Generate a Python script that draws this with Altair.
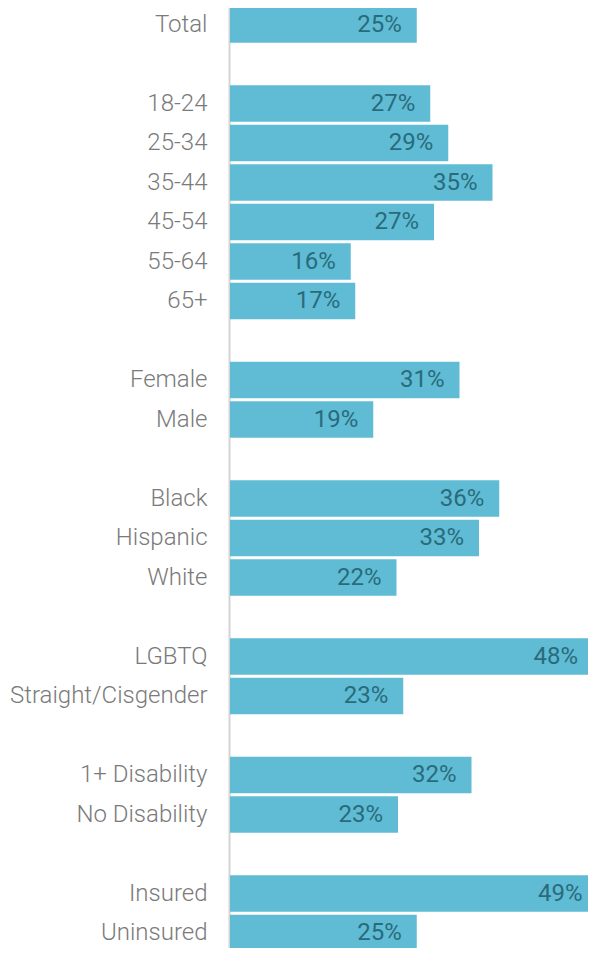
import altair as alt
import pandas as pd

categories = ["Total", "gap1",
              "18-24", "25-34", "35-44", "45-54", "55-64", "65+", "gap2",
              "Female", "Male", "gap3",
              "Black", "Hispanic", "White", "gap4",
              "LGBTQ", "Straight/Cisgender", "gap5",
              "1+ Disability", "No Disability", "gap6",
              "Insured", "Uninsured"]
values = [24.9, None,
          26.7, 29.1, 35.0, 27.2, 16.1, 16.7, None,
          30.6, 19.1, None,
          35.9, 33.2, 22.2, None,
          48.4, 23.1, None,
          32.2, 22.4, None,
          49.0, 24.9]
labels = ["25%", "",
          "27%", "29%", "35%", "27%", "16%", "17%", "",
          "31%", "19%", "",
          "36%", "33%", "22%", "",
          "48%", "23%", "",
          "32%", "23%", "",
          "49%", "25%"]

df = pd.DataFrame({"cat": categories, "value": values, "label": labels})
bars_df = df[df["value"].notna()]

y = alt.Y("cat:N", sort=categories,
          scale=alt.Scale(domain=categories, paddingInner=0.07, paddingOuter=0.035),
          axis=alt.Axis(title=None, ticks=False, labelFontSize=24,
                        labelFont="Roboto", labelFontWeight=300,
                        labelColor="#7a7a7a", labelPadding=22, offset=1,
                        labelLimit=400,
                        domainColor="#d4d4d4", domainWidth=2,
                        labelExpr="indexof(datum.value, 'gap') == 0 ? '' : datum.value"))
x = alt.X("value:Q", scale=alt.Scale(domain=[0, 358 / 7.5], nice=False, zero=True),
          axis=None)

bars = alt.Chart(bars_df).mark_bar(color="#5fbcd4").encode(x=x, y=y)
text = alt.Chart(bars_df).mark_text(align="right", baseline="middle", dx=-15,
                                    font="Roboto", fontSize=24,
                                    color="#2a6b7b").encode(x=x, y=y, text="label:N")

chart = (bars + text).properties(
    width=358, height=948,
    autosize=alt.AutoSizeParams(type="none"),
    padding={"left": 222, "top": -3.25, "right": 0, "bottom": -4.75},
).configure_view(stroke=None)

chart.save("out.html", embed_options={"renderer": "svg", "actions": False})
